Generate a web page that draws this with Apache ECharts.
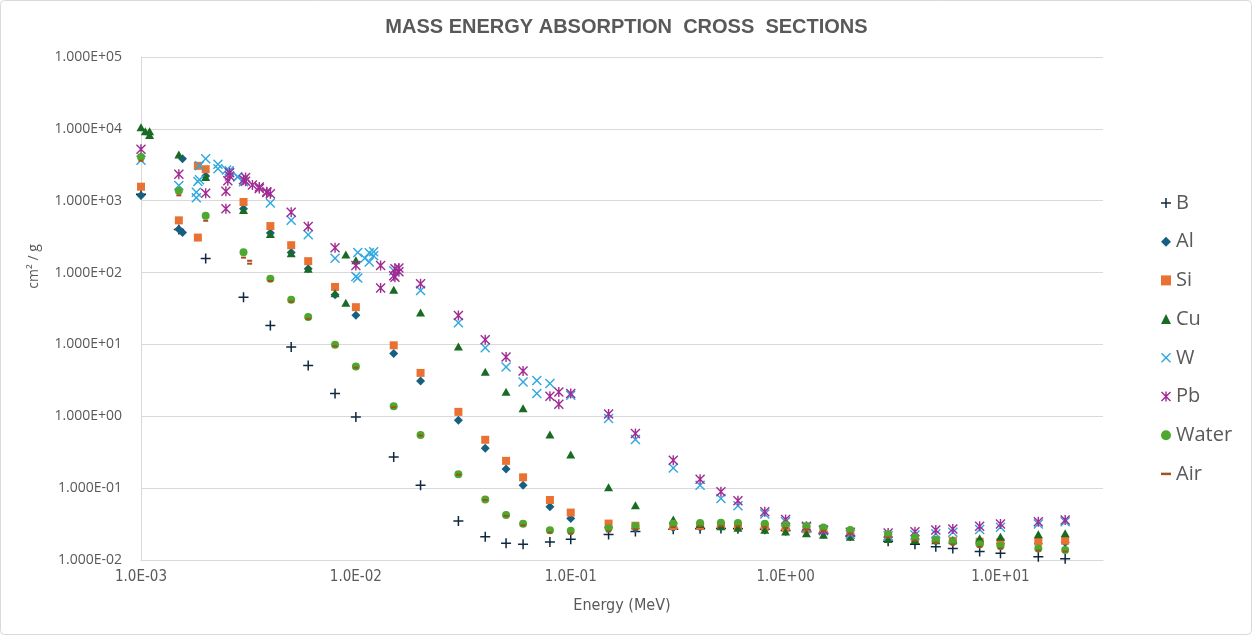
<!DOCTYPE html>
<html>
	<head>
		<meta charset="utf-8">
		<title>Mass energy absorption cross sections</title>
		<style>
			body { margin: 0; background: #fff; }
			#main { width: 1253px; height: 636px; }
		</style>
	</head>
	<body>
		<div id="main"></div>
		<script src="https://cdn.jsdelivr.net/npm/echarts@6.0.0/dist/echarts.min.js"></script>
		<script>
			// [energy (MeV), cm2/g]
			var seriesNames = ['B', 'Al', 'Si', 'Cu', 'W', 'Pb', 'Water', 'Air'];

			var boron = [[0.001,1229],[0.0015,399],[0.002,157],[0.003,45.4],[0.004,18.4],[0.005,9.19],[0.006,5.11],[0.008,2.07],[0.01,0.98],[0.015,0.272],[0.02,0.110],[0.03,0.0348],[0.04,0.0211],[0.05,0.0171],[0.06,0.0165],[0.08,0.0178],[0.1,0.0194],[0.15,0.0227],[0.2,0.0250],[0.3,0.0268],[0.4,0.0273],[0.5,0.0275],[0.6,0.0273],[0.8,0.0267],[1,0.0258],[1.25,0.0247],[1.5,0.0236],[2,0.0215],[3,0.0182],[4,0.0165],[5,0.0153],[6,0.0145],[8,0.0131],[10,0.0124],[15,0.0111],[20,0.0104]];

			var aluminium = [[0.001,1183],[0.0015,400.1],[0.0015596,360],[0.0015596,3829],[0.002,2204],[0.003,773.2],[0.004,355.3],[0.005,190.3],[0.006,112.8],[0.008,49.11],[0.01,25.43],[0.015,7.487],[0.02,3.094],[0.03,0.8778],[0.04,0.3601],[0.05,0.184],[0.06,0.1099],[0.08,0.05511],[0.1,0.03794],[0.15,0.02827],[0.2,0.02745],[0.3,0.02816],[0.4,0.02862],[0.5,0.02868],[0.6,0.02851],[0.8,0.02778],[1,0.02695],[1.25,0.02579],[1.5,0.0247],[2,0.0229],[3,0.02051],[4,0.01909],[5,0.01824],[6,0.0177],[8,0.01715],[10,0.01699],[15,0.01712],[20,0.01759]];

			var silicon = [[0.001,1567],[0.0015,533.1],[0.0018389,307.0],[0.0018389,3059],[0.002,2744],[0.003,960.1],[0.004,443.6],[0.005,240.3],[0.006,144],[0.008,63.12],[0.01,32.99],[0.015,9.723],[0.02,4.015],[0.03,1.152],[0.04,0.4708],[0.05,0.2397],[0.06,0.1414],[0.08,0.06834],[0.1,0.04572],[0.15,0.03213],[0.2,0.02998],[0.3,0.02965],[0.4,0.02994],[0.5,0.02994],[0.6,0.02972],[0.8,0.02894],[1,0.02802],[1.25,0.0268],[1.5,0.02569],[2,0.02383],[3,0.02136],[4,0.01991],[5,0.01904],[6,0.0185],[8,0.01796],[10,0.01783],[15,0.01804],[20,0.01857]];

			var copper = [[0.001,10490],[0.00104695,9241],[0.001096,8186],[0.001096,9282],[0.0015,4393],[0.002,2142],[0.003,742],[0.004,344],[0.005,186],[0.006,113],[0.008,51.4],[0.0089789,38.0],[0.0089789,178],[0.01,148.4],[0.015,57.88],[0.02,27.88],[0.03,9.349],[0.04,4.163],[0.05,2.192],[0.06,1.29],[0.08,0.5581],[0.1,0.2949],[0.15,0.1027],[0.2,0.05781],[0.3,0.03658],[0.4,0.03164],[0.5,0.02947],[0.6,0.02816],[0.8,0.02637],[1,0.02501],[1.25,0.02363],[1.5,0.02252],[2,0.02103],[3,0.01957],[4,0.01897],[5,0.01877],[6,0.01893],[8,0.0200],[10,0.0210],[15,0.0228],[20,0.0236]];

			var tungsten = [[0.001,3671],[0.0015,1632],[0.0018092,1097],[0.0018092,1311],[0.00184014,1850],[0.0018716,1950],[0.0018716,3064],[0.002,3830],[0.002281,2787],[0.002281,3226],[0.0025,2675],[0.0025749,2491],[0.0025749,2621],[0.0028196,2131],[0.0028196,2158],[0.003,1841],[0.004,931.6],[0.005,534.8],[0.006,336.5],[0.008,158.7],[0.01,88.2],[0.0102068,83.8],[0.0102068,190],[0.011,158],[0.011544,140],[0.011544,188],[0.0121,172],[0.0121,195],[0.015,106],[0.02,56.2],[0.03,20.0],[0.04,9.0],[0.05,4.84],[0.06,3.0],[0.069525,2.07],[0.069525,3.16],[0.08,2.85],[0.1,1.96],[0.15,0.93],[0.2,0.474],[0.3,0.191],[0.4,0.110],[0.5,0.072],[0.6,0.0568],[0.8,0.0435],[1,0.034],[1.25,0.0285],[1.5,0.0255],[2,0.0228],[3,0.0218],[4,0.0222],[5,0.0232],[6,0.0243],[8,0.0265],[10,0.0285],[15,0.0318],[20,0.0342]];

			var lead = [[0.001,5197],[0.0015,2344],[0.002,1274],[0.002484,771],[0.002484,1350],[0.0025354,1900],[0.0025856,2200],[0.0025856,2450],[0.003,1960],[0.0030664,1860],[0.0030664,2100],[0.0033,1650],[0.0035536,1480],[0.0035536,1550],[0.0038507,1300],[0.0038507,1330],[0.004,1250],[0.005,690],[0.006,436],[0.008,222],[0.01,125],[0.013035,61.2],[0.013035,125],[0.015,90],[0.0152,86],[0.0152,113],[0.015861,103],[0.015861,116],[0.02,69.7],[0.03,25.3],[0.04,11.6],[0.05,6.67],[0.06,4.26],[0.08,1.90],[0.088004,1.47],[0.088004,2.18],[0.1,2.07],[0.15,1.08],[0.2,0.575],[0.3,0.245],[0.4,0.133],[0.5,0.0889],[0.6,0.0667],[0.8,0.0469],[1,0.0367],[1.25,0.0295],[1.5,0.0262],[2,0.0243],[3,0.0238],[4,0.0247],[5,0.0261],[6,0.0270],[8,0.0296],[10,0.0316],[15,0.0340],[20,0.0360]];

			var water = [[0.001,4065],[0.0015,1372],[0.002,615.2],[0.003,191.7],[0.004,81.91],[0.005,41.88],[0.006,24.05],[0.008,9.915],[0.01,4.944],[0.015,1.374],[0.02,0.5503],[0.03,0.1557],[0.04,0.06947],[0.05,0.04223],[0.06,0.0319],[0.08,0.02597],[0.1,0.02546],[0.15,0.02764],[0.2,0.02967],[0.3,0.03192],[0.4,0.03279],[0.5,0.03299],[0.6,0.03284],[0.8,0.03206],[1,0.03103],[1.25,0.02965],[1.5,0.02833],[2,0.02608],[3,0.02281],[4,0.02066],[5,0.01915],[6,0.01806],[8,0.01658],[10,0.01566],[15,0.01441],[20,0.01382]];

			var air = [[0.001,3599],[0.0015,1188],[0.002,526.2],[0.003,161.4],[0.0032029,133],[0.0032029,146],[0.004,76.36],[0.005,39.31],[0.006,22.7],[0.008,9.446],[0.01,4.742],[0.015,1.334],[0.02,0.5389],[0.03,0.1537],[0.04,0.06833],[0.05,0.04098],[0.06,0.03041],[0.08,0.02407],[0.1,0.02325],[0.15,0.02496],[0.2,0.02672],[0.3,0.02872],[0.4,0.02949],[0.5,0.02966],[0.6,0.02953],[0.8,0.02882],[1,0.02789],[1.25,0.02666],[1.5,0.02547],[2,0.02345],[3,0.02057],[4,0.0187],[5,0.0174],[6,0.01647],[8,0.01525],[10,0.0145],[15,0.01353],[20,0.01311]];

			// marker shapes (20x20 boxes)
			var plusPath = 'path://M8.5,0h3v8.5h8.5v3h-8.5v8.5h-3v-8.5h-8.5v-3h8.5z';
			var crossPath = 'path://M0,2L2,0L10,8L18,0L20,2L12,10L20,18L18,20L10,12L2,20L0,18L8,10Z';
			var starPath = crossPath + 'M8.6,0h2.8v20h-2.8z';
			var dashPath = 'path://M0,0h12v3h-12z';

			var grey = '#595959';
			var narrow = "'DejaVu Sans Condensed', 'Liberation Sans Narrow', 'Roboto Condensed', sans-serif";

			function expLabel(v, digits) {
				var e = Math.round(Math.log(v) / Math.LN10);
				var s = e < 0 ? '-' : '+';
				var a = Math.abs(e);
				return (digits ? '1.000' : '1.0') + 'E' + s + (a < 10 ? '0' + a : a);
			}

			function makeSeries(name, data, symbol, size, color) {
				return {
					name: name,
					type: 'scatter',
					data: data,
					symbol: symbol,
					symbolSize: size,
					itemStyle: { color: color, opacity: 1 },
					emphasis: { disabled: true }
				};
			}

			var chart = echarts.init(document.getElementById('main'));
			var option = {
				animation: false,
				title: {
					text: 'MASS ENERGY ABSORPTION  CROSS  SECTIONS',
					left: 'center',
					top: 12,
					textStyle: { fontFamily: 'Liberation Sans', fontSize: 20, fontWeight: 'bold', color: grey }
				},
				grid: { left: 141, right: 150, top: 57, bottom: 76 },
				legend: {
					orient: 'vertical',
					left: 1156,
					top: 188,
					itemWidth: 10,
					itemHeight: 10,
					itemGap: 18.7,
					textStyle: { fontFamily: 'Open Sans', fontSize: 20, color: grey, lineHeight: 20 },
					data: [
						{ name: 'B' }, { name: 'Al' }, { name: 'Si' }, { name: 'Cu' },
						{ name: 'W' }, { name: 'Pb' }, { name: 'Water' },
						{ name: 'Air', icon: dashPath }
					]
				},
				xAxis: {
					type: 'log',
					logBase: 10,
					min: 0.001,
					max: 30,
					name: 'Energy (MeV)',
					nameLocation: 'middle',
					nameGap: 38,
					nameTextStyle: { fontFamily: narrow, fontSize: 16, color: grey },
					axisLine: { lineStyle: { color: '#d9d9d9', width: 1 } },
					axisTick: { show: false },
					splitLine: { show: false },
					axisLabel: {
						showMaxLabel: false,
						margin: 10,
						fontFamily: narrow,
						fontSize: 15,
						color: grey,
						formatter: function (v) { return expLabel(v, false); }
					}
				},
				yAxis: {
					type: 'log',
					logBase: 10,
					min: 0.01,
					max: 100000,
					name: 'cm² / g',
					nameLocation: 'middle',
					nameGap: 100,
					nameTextStyle: { fontFamily: 'Open Sans', fontSize: 14, color: grey, padding: [0, 0, 0, 84] },
					axisLine: { show: true, lineStyle: { color: '#d9d9d9', width: 1 } },
					axisTick: { show: false },
					splitLine: { lineStyle: { color: '#d9d9d9', width: 1 } },
					axisLabel: {
						margin: 19,
						fontFamily: 'Open Sans',
						fontSize: 14,
						color: grey,
						formatter: function (v) { return expLabel(v, true); }
					}
				},
				graphic: [{
					type: 'rect',
					shape: { x: 0.5, y: 0.5, width: 1251, height: 634, r: 4 },
					style: { fill: 'none', stroke: '#d9d9d9', lineWidth: 1 },
					silent: true
				}],
				series: [
					makeSeries('B', boron, plusPath, 10, '#0e2841'),
					makeSeries('Al', aluminium, 'diamond', 9, '#156082'),
					makeSeries('Si', silicon, 'rect', 8, '#e97132'),
					makeSeries('Cu', copper, 'triangle', [9, 8], '#196b24'),
					makeSeries('W', tungsten, crossPath, 10, '#2ea8df'),
					makeSeries('Pb', lead, starPath, 10, '#a02b93'),
					makeSeries('Water', water, 'circle', 8, '#4ea72e'),
					makeSeries('Air', air, 'rect', [5, 2], '#a5501f')
				]
			};
			chart.setOption(option);
		</script>
	</body>
</html>
